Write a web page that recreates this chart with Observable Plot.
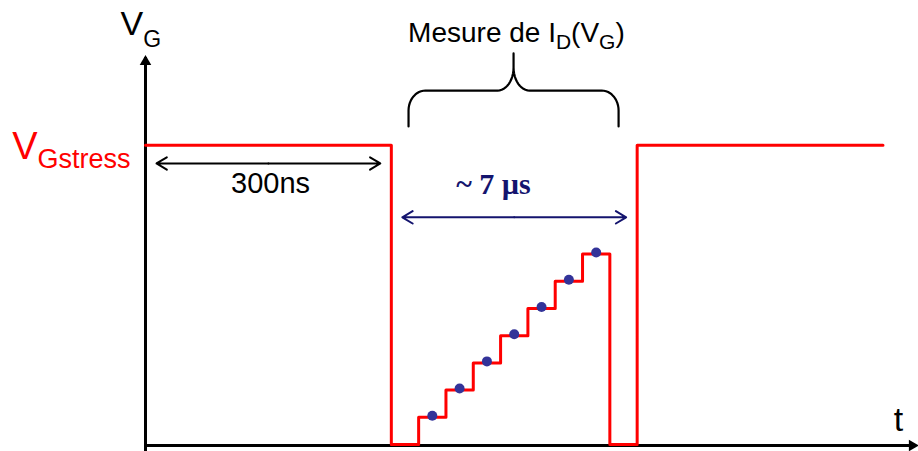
<!DOCTYPE html>
<html><head><meta charset="utf-8">
<script src="https://cdn.jsdelivr.net/npm/d3@7"></script>
<script src="https://cdn.jsdelivr.net/npm/@observablehq/plot@0.6"></script>
<style>body{margin:0;background:#fff}</style>
</head><body><div id="chart"></div>
<script>
// Gate-voltage waveform, step-after breakpoints (time unit = one measurement step)
const stepTimes  = [0, 9, 10, 11, 12, 13, 14, 15, 16, 17, 18, 27];
const stepLevels = [11, 0, 1, 2, 3, 4, 5, 6, 7, 0, 11, 11];
// I_D(V_G) measurement points (middle of each step)
const measureTimes  = [10.5, 11.5, 12.5, 13.5, 14.5, 15.5, 16.5];
const measureLevels = [1, 2, 3, 4, 5, 6, 7];
// Duration annotations
const spanLabels = ["300ns", "~ 7 µs"];
const spanStarts = [0, 9];
const spanEnds   = [9, 18];
// Text labels
const yAxisLabel = "V_{G}";
const xAxisLabel = "t";
const stressLabel = "V_{Gstress}";
const measureLabel = "Mesure de I_{D}(V_{G})";

const X_MAX = 28.3, Y_MAX = 16.32, AXIS_TOP = 14.3;
const RED = "#ff0000", NAVY = "#14146e", DOT = "#333399";
const SANS = "Liberation Sans, Arial, sans-serif";

const wave = stepTimes.map((t, i) => ({t, v: stepLevels[i]}));
const pts = measureTimes.map((t, i) => ({t, v: measureLevels[i]}));
const spanY = [10.33, 8.35];
const spanColor = ["black", NAVY];
const arrows = spanStarts.flatMap((s, i) => {
  const m = (s + spanEnds[i]) / 2;
  return [{x1: m, x2: s, y: spanY[i], c: spanColor[i]}, {x1: m, x2: spanEnds[i], y: spanY[i], c: spanColor[i]}];
});

// curly brace above the measurement window
function bracePoints(x0, x1, yBase, yBar, yTip, rx1, ry1, rx2, ry2) {
  const xm = (x0 + x1) / 2, left = [[x0, yBase]];
  for (let k = 0; k <= 12; ++k) { const a = Math.PI - k / 12 * Math.PI / 2; left.push([x0 + rx1 + rx1 * Math.cos(a), yBar - ry1 + ry1 * Math.sin(a)]); }
  for (let k = 0; k <= 12; ++k) { const a = 1.5 * Math.PI + k / 12 * Math.PI / 2; left.push([xm - rx2 + rx2 * Math.cos(a), yBar + ry2 + ry2 * Math.sin(a)]); }
  left.push([xm, yTip]);
  const right = left.slice(0, -1).reverse().map(([x, y]) => [2 * xm - x, y]);
  return left.concat(right).map(([x, y]) => ({x, y}));
}
const brace = bracePoints(9.63, 17.32, 11.69, 13.01, 14.375, 0.62, 0.735, 0.586, 0.846);

const chart = Plot.plot({
  width: 918, height: 451,
  marginLeft: 145, marginRight: 0, marginTop: 0, marginBottom: 7,
  x: {domain: [0, X_MAX], axis: null},
  y: {domain: [0, Y_MAX], axis: null},
  style: {background: "white", overflow: "visible"},
  marks: [
    Plot.ruleY([0], {x1: () => 0, x2: () => X_MAX, stroke: "black", strokeWidth: 3, insetRight: 8, dy: 1}),
    Plot.ruleX([0], {y1: () => 0, y2: () => AXIS_TOP, stroke: "black", strokeWidth: 3, insetTop: 8, insetBottom: -2}),
    Plot.dot([0], {x: () => 0, y: () => AXIS_TOP, symbol: "triangle", r: 4.3, fill: "black", stroke: null, dy: 6.3}),
    Plot.dot([0], {x: () => X_MAX, y: () => 0, symbol: "triangle", r: 4.3, fill: "black", stroke: null, rotate: 90, dx: -6.3, dy: 1}),
    Plot.line(wave, {x: "t", y: "v", curve: "step-after", stroke: RED, strokeWidth: 3}),
    Plot.dot(pts, {x: "t", y: "v", r: 5, fill: DOT, stroke: null, dy: -1.5}),
    Plot.arrow(arrows, {x1: "x1", x2: "x2", y1: "y", y2: "y", stroke: "c", strokeWidth: 2, headLength: 9, headAngle: 62, insetEnd: 11}),
    Plot.line(brace, {x: "x", y: "y", stroke: "black", strokeWidth: 2.2}),
    Plot.text([yAxisLabel], {x: () => -0.915, y: () => 15.04, text: d => d, textAnchor: "start", lineAnchor: "bottom", fontSize: 34, fontFamily: SANS, fill: "black"}),
    Plot.text([stressLabel], {x: () => -0.549, y: () => 10.51, text: d => d, textAnchor: "end", lineAnchor: "bottom", fontSize: 38, fontFamily: SANS, fill: RED}),
    Plot.text([spanLabels[0]], {x: () => 4.58, y: () => 9.23, text: d => d, textAnchor: "middle", lineAnchor: "bottom", fontSize: 29, fontFamily: SANS, fill: "black"}),
    Plot.text([spanLabels[1]], {x: () => 12.74, y: () => 9.2, text: d => d, textAnchor: "middle", lineAnchor: "bottom", fontSize: 30, fontWeight: "bold", fontFamily: "Liberation Serif, Times New Roman, serif", fill: NAVY}),
    Plot.text([measureLabel], {x: () => 13.58, y: () => 14.78, text: d => d, textAnchor: "middle", lineAnchor: "bottom", fontSize: 28, fontFamily: SANS, fill: "black"}),
    Plot.text([xAxisLabel], {x: () => 27.57, y: () => 0.51, text: d => d, textAnchor: "middle", lineAnchor: "bottom", fontSize: 34, fontFamily: SANS, fill: "black"})
  ]
});

const subStyles = {
  "V_{G}": {sub: 23, shift: 12},
  "V_{Gstress}": {sub: 27, shift: 9},
  "Mesure de I_{D}(V_{G})": {sub: 21, shift: 7}
};
chart.querySelectorAll("text").forEach(el => {
  const s = el.textContent, st = subStyles[s];
  if (!st) return;
  el.textContent = "";
  const re = /_\{([^}]*)\}|([^_]+)/g;
  let m, inSub = false;
  while ((m = re.exec(s))) {
    const t = document.createElementNS("http://www.w3.org/2000/svg", "tspan");
    if (m[1] !== undefined) { t.textContent = m[1]; t.setAttribute("font-size", st.sub); t.setAttribute("dy", st.shift); inSub = true; }
    else { t.textContent = m[2]; if (inSub) { t.setAttribute("dy", -st.shift); inSub = false; } }
    el.appendChild(t);
  }
});
document.getElementById("chart").appendChild(chart);
</script>
</body></html>
